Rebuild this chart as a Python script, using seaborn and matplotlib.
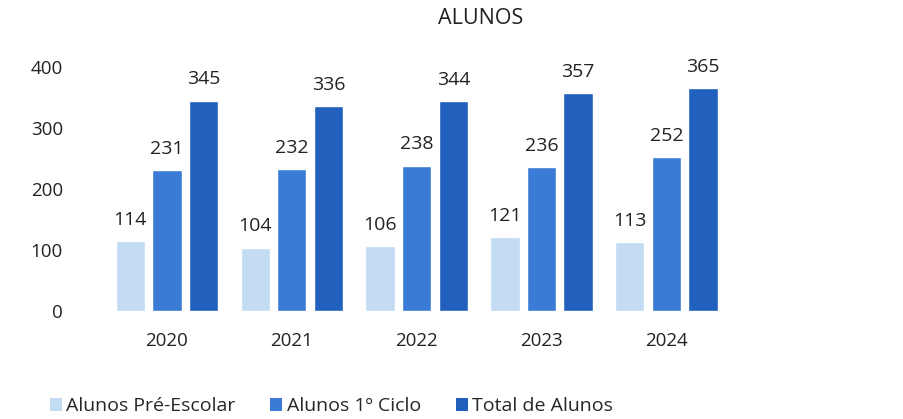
import matplotlib
matplotlib.use("Agg")
import matplotlib.pyplot as plt
import seaborn as sns
import pandas as pd
from matplotlib.patches import Patch

years = ["2020", "2021", "2022", "2023", "2024"]
series = ["Alunos Pré-Escolar", "Alunos 1º Ciclo", "Total de Alunos"]
pre_escolar = [114, 104, 106, 121, 113]
primeiro_ciclo = [231, 232, 238, 236, 252]
total = [345, 336, 344, 357, 365]
yticks = [0, 100, 200, 300, 400]
colors = ["#C3DBF3", "#3A7BD5", "#2160BD"]

rows = []
for s, vals in zip(series, [pre_escolar, primeiro_ciclo, total]):
    for y, v in zip(years, vals):
        rows.append({"Ano": y, "Série": s, "Valor": v})
df = pd.DataFrame(rows)

sns.set_theme(style="white")
plt.rcParams["font.family"] = ["Open Sans", "DejaVu Sans"]

fig = plt.figure(figsize=(9.04, 4.19), dpi=100)
ax = fig.add_axes([0.1156, 0.2578, 0.6906, 0.5822])
sns.barplot(data=df, x="Ano", y="Valor", hue="Série", hue_order=series,
            order=years, palette=colors, width=0.88, gap=0.2,
            saturation=1, ax=ax, legend=False)

for cont in ax.containers:
    ax.bar_label(cont, labels=[f"{int(v)}" for v in cont.datavalues],
                 padding=9, fontsize=14, color="#222222")

ax.set_ylim(0, 400)
ax.set_xlim(-0.5, 4.5)
ax.set_yticks(yticks)
ax.set_xlabel("")
ax.set_ylabel("")
for sp in ax.spines.values():
    sp.set_visible(False)
ax.tick_params(axis="y", length=0, pad=30, labelsize=13.5, labelcolor="#222222")
ax.tick_params(axis="x", length=0, pad=15, labelsize=13.5, labelcolor="#222222")
ax.grid(False)

fig.text(0.532, 0.955, "ALUNOS", ha="center", va="center", fontsize=15.5, color="#222222")

handles = [Patch(facecolor=c, edgecolor="none") for c in colors]
fig.legend(handles, series, loc="center left", bbox_to_anchor=(0.055, 0.03),
           ncol=3, frameon=False, fontsize=14, handlelength=0.62, handleheight=0.62,
           handletextpad=0.22, columnspacing=1.8, borderpad=0, borderaxespad=0)

fig.savefig("out.png", dpi=100, facecolor="white")
